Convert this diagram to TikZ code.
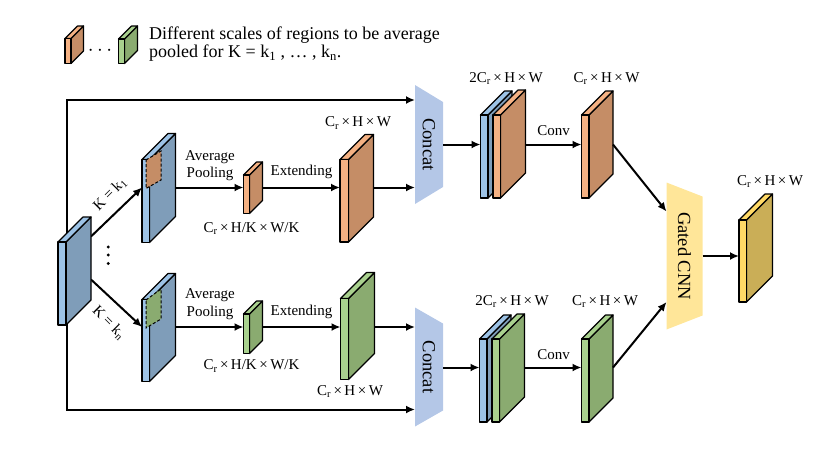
\documentclass[tikz,border=0pt]{standalone}
\usepackage{fontspec}
\setmainfont{Liberation Serif}
\usetikzlibrary{arrows.meta}

\definecolor{bluefr}{HTML}{9DC3E6}
\definecolor{bluesd}{HTML}{7F9DB9}
\definecolor{orafr}{HTML}{F4B183}
\definecolor{orasd}{HTML}{C58D66}
\definecolor{grnfr}{HTML}{A9D18E}
\definecolor{grnsd}{HTML}{8AAB70}
\definecolor{ylwfr}{HTML}{FFD966}
\definecolor{ylwsd}{HTML}{CAAE57}
\definecolor{catfill}{HTML}{B4C7E7}
\definecolor{gatefill}{HTML}{FFE699}

% name, x, y, w, h, depth, front, side
\newcommand{\slab}[8]{%
 \draw[slabline,fill=#8] (#2+#4,#3) -- ++(#6,-#6) -- ++(0,#5) -- ++(-#6,#6) -- cycle;
 \draw[slabline,fill=#7] (#2,#3) -- ++(#6,-#6) -- ++(#4,0) -- ++(-#6,#6) -- cycle;
 \draw[slabline,fill=#7] (#2,#3) rectangle ++(#4,#5);
 \coordinate (#1-f) at (#2,#3+#5/2);
 \coordinate (#1-b) at (#2+#4+#6,#3+#5/2-#6);
}
% name, x, top, w, h, inset, fill, text
\newcommand{\trap}[8]{%
 \fill[#7] (#2,#3) -- ++(#4,#6) -- ++(0,#5-2*#6) -- ++(-#4,#6) -- cycle;
 \node[bigtxt,rotate=-90] (#1) at (#2+#4/2,#3+#5/2) {#8};
 \coordinate (#1-w) at (#2,#3+#5/2);
 \coordinate (#1-e) at (#2+#4,#3+#5/2);
}
\newcommand{\chw}{C\textsubscript{r}\,×\,H\,×\,W}
\newcommand{\chkw}{C\textsubscript{r}\,×\,H/K\,×\,W/K}

\begin{document}
\begin{tikzpicture}[x=1pt,y=-1pt,
 slabline/.style={line width=1.2pt,line join=round},
 arr/.style={line width=2pt,-{Latex[length=9pt,width=8pt]}},
 lbl/.style={font=\fontsize{15}{17.5}\selectfont,inner sep=0pt},
 bigtxt/.style={font=\fontsize{18.5}{20}\selectfont,inner sep=0pt},
 patch/.style={line width=1pt,dashed,dash pattern=on 3pt off 2pt}]
 \useasboundingbox (0,0) rectangle (830,459);

 \coordinate (rowA) at (0,187.5);
 \coordinate (rowB) at (0,327);
 \coordinate (rowC) at (0,144.5);
 \coordinate (rowD) at (0,367.5);
 \coordinate (rowE) at (0,256);
 \coordinate (kA) at (0,236.5);
 \coordinate (kB) at (0,279.5);
 \coordinate (gA) at (0,211.5);
 \coordinate (gB) at (0,302);
 \coordinate (skipA) at (66.5,100);
 \coordinate (skipB) at (66.5,409.5);

 \trap{cat1}{415}{85}{28}{119}{17}{catfill}{Concat}
 \trap{cat2}{415}{307.5}{28}{119}{16}{catfill}{Concat}
 \trap{gcnn}{666.5}{182.5}{36}{147}{14}{gatefill}{Gated CNN}

 \draw[arr] (skipA |- 0,300) -- (skipA) -- (skipA -| cat1-w);
 \draw[arr] (skipB |- 0,300) -- (skipB) -- (skipB -| cat2-w);
 \draw[arr] (91,0 |- kA) -- (142,0 |- rowA);
 \draw[arr] (91,0 |- kB) -- (142,0 |- rowB);

 \slab{in}{58}{242}{8}{83}{25}{bluefr}{bluesd}
 \slab{blue1}{142}{159.5}{7.5}{83}{26}{bluefr}{bluesd}
 \slab{blue2}{142}{299.5}{7.5}{82}{26}{bluefr}{bluesd}
 \draw[patch,fill=orasd] (146,160) -- (161,151) -- (161,180) -- (146,188.5) -- cycle;
 \draw[patch,fill=grnsd] (146,300) -- (161,289) -- (161,319) -- (146,328) -- cycle;
 \foreach \y in {247,255,263.5}
  \fill (108.3,\y) circle (1.6pt);

 \slab{pool1}{243.5}{175}{6}{38.5}{13}{orafr}{orasd}
 \slab{pool2}{243.5}{314}{6}{39.5}{13}{grnfr}{grnsd}
 \slab{ext1}{340}{159.5}{8.5}{82.5}{25}{orafr}{orasd}
 \slab{ext2}{340.5}{298.5}{8}{81}{26}{grnfr}{grnsd}

 \draw[arr] (blue1-b |- rowA) -- (pool1-f |- rowA);
 \draw[arr] (pool1-b |- rowA) -- (ext1-f |- rowA);
 \draw[arr] (ext1-b |- rowA) -- (cat1-w |- rowA);
 \draw[arr] (blue2-b |- rowB) -- (pool2-f |- rowB);
 \draw[arr] (pool2-b |- rowB) -- (ext2-f |- rowB);
 \draw[arr] (ext2-b |- rowB) -- (cat2-w |- rowB);

 \slab{cb1}{480.5}{115}{7.5}{83}{24}{bluefr}{bluesd}
 \slab{co1}{493}{115}{7.5}{83}{25}{orafr}{orasd}
 \slab{conv1}{581.5}{115}{7.5}{83}{24}{orafr}{orasd}
 \slab{cb2}{479.5}{339}{7.5}{83}{24}{bluefr}{bluesd}
 \slab{cg2}{492}{339}{7.5}{83}{25}{grnfr}{grnsd}
 \slab{conv2}{581.5}{339}{7.5}{83}{24}{grnfr}{grnsd}
 \slab{out}{739}{220}{7.5}{82}{26}{ylwfr}{ylwsd}

 \draw[arr] (cat1-e) -- (cb1-f |- rowC);
 \draw[arr] (co1-b |- rowC) -- (conv1-f |- rowC);
 \draw[arr] (cat2-e |- rowD) -- (cb2-f |- rowD);
 \draw[arr] (cg2-b |- rowD) -- (conv2-f |- rowD);
 \draw[arr] (conv1-b |- rowC) -- (gcnn-w |- gA);
 \draw[arr] (conv2-b |- rowD) -- (gcnn-w |- gB);
 \draw[arr] (gcnn-e |- rowE) -- (out-f |- rowE);

 \node[lbl,rotate=45] (k1) at (110,194) {K = k\textsubscript{1}};
 \node[lbl,rotate=-45] (kn) at (109,322.5) {K = k\textsubscript{n}};
 \node[lbl,align=center] (avg1) at (210,165.5) {Average\\Pooling};
 \node[lbl,align=center] (avg2) at (210,304) {Average\\Pooling};
 \node[lbl] (ex1) at (301.5,171.5) {Extending};
 \node[lbl] (ex2) at (301.5,311.5) {Extending};
 \node[lbl] (sz1) at (251.5,228.5) {\chkw};
 \node[lbl] (sz2) at (251.5,366) {\chkw};
 \node[lbl] (e1) at (358,123) {\chw};
 \node[lbl] (e2) at (350,391.5) {\chw};
 \node[lbl] (c1) at (506,78.5) {2\chw};
 \node[lbl] (c2) at (512,301.5) {2\chw};
 \node[lbl] (v1) at (606.5,78.5) {\chw};
 \node[lbl] (v2) at (605,301.5) {\chw};
 \node[lbl] (cv1) at (553.5,131) {Conv};
 \node[lbl] (cv2) at (553.5,355) {Conv};
 \node[lbl] (o1) at (770,181.5) {\chw};

 \slab{leg1}{65}{38.5}{6}{25}{12.5}{orafr}{orasd}
 \slab{leg2}{118.5}{39}{6}{24.5}{13}{grnfr}{grnsd}
 \node[inner sep=0pt,font=\fontsize{20}{20}\selectfont] (dots) at (100,51) {$\cdots$};
 \node[anchor=west,align=left,inner sep=0pt,font=\fontsize{18}{18.3}\selectfont] (legend) at (149,44) {Different scales of regions to be average\\pooled for K = k\textsubscript{1} , … , k\textsubscript{n}.};
\end{tikzpicture}
\end{document}
